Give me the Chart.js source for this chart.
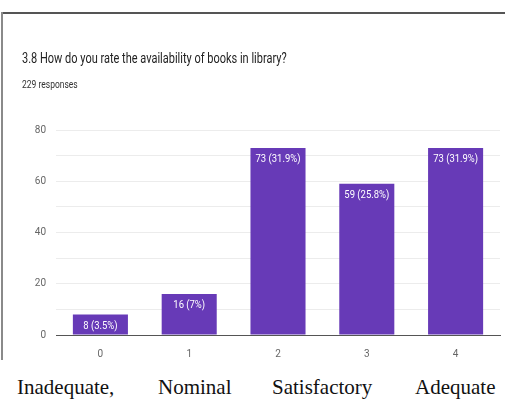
<!DOCTYPE html>
<html>
<head>
<meta charset="utf-8">
<script src="https://cdn.jsdelivr.net/npm/chart.js@4"></script>
<style>
  html, body { margin: 0; padding: 0; background: #fff; }
  body { width: 505px; height: 420px; position: relative; overflow: hidden; }
  #wrap { position: absolute; left: 0; top: 0; width: 505px; height: 368px; }
  #frameTop { position: absolute; left: 1px; top: 12px; width: 504px; height: 2px; background: #555; }
  #frameLeft { position: absolute; left: 1px; top: 12px; width: 2px; height: 348px; background: #8a8a8a; }
  .head { position: absolute; left: 22px; font-family: Roboto, "Noto Sans", sans-serif; white-space: nowrap; transform-origin: left top; }
  #title { top: 50px; font-size: 14px; line-height: 16px; color: #222; transform: scaleX(0.785); }
  #subtitle { top: 79px; font-size: 10px; line-height: 12px; color: #333; transform: scaleX(0.85); }
  .word { position: absolute; top: 377px; font-family: "Liberation Serif", "DejaVu Serif", serif; font-size: 21px; line-height: 21px; color: #111; white-space: nowrap; }
</style>
</head>
<body>
<div id="wrap"><canvas id="chart"></canvas></div>
<div id="frameTop"></div>
<div id="frameLeft"></div>
<div class="head" id="title"></div>
<div class="head" id="subtitle"></div>
<div class="word" style="left:17px">Inadequate,</div>
<div class="word" style="left:158px">Nominal</div>
<div class="word" style="left:272px">Satisfactory</div>
<div class="word" style="left:415px">Adequate</div>
<script>
// 데이터
const categories = ['0', '1', '2', '3', '4'];
const counts = [8, 16, 73, 59, 73];
const percents = ['3.5%', '7%', '31.9%', '25.8%', '31.9%'];
const yTicks = [0, 20, 40, 60, 80];

const titleText = '3.8 How do you rate the availability of books in library?';
const subtitleText = '229 responses';

document.getElementById('title').textContent = titleText;
document.getElementById('subtitle').textContent = subtitleText;

const fontName = 'Roboto, "Noto Sans", sans-serif';

// 막대 위에 값 표시 (가로로 살짝 좁혀서)
const barLabels = {
    id: 'barLabels',
    afterDatasetsDraw(chart) {
        const ctx = chart.ctx;
        const meta = chart.getDatasetMeta(0);
        ctx.save();
        ctx.fillStyle = '#ffffff';
        ctx.font = '11px ' + fontName;
        ctx.textAlign = 'center';
        ctx.textBaseline = 'top';
        meta.data.forEach((bar, i) => {
            ctx.save();
            ctx.translate(bar.x, bar.y + 6);
            ctx.scale(0.86, 1);
            ctx.fillText(`${counts[i]} (${percents[i]})`, 0, 0);
            ctx.restore();
        });
        ctx.restore();
    }
};

const ctx = document.getElementById('chart').getContext('2d');
const chart = new Chart(ctx, {
    type: 'bar',
    data: {
        labels: categories,
        datasets: [{
            data: counts,
            backgroundColor: '#673ab7',
            borderWidth: 0,
            barPercentage: 0.62,
            categoryPercentage: 1
        }]
    },
    options: {
        responsive: true,
        maintainAspectRatio: false,
        animation: false,
        layout: { padding: { left: 20, right: 5, top: 130, bottom: 3 } },
        plugins: {
            legend: { display: false },
            tooltip: { enabled: false }
        },
        scales: {
            x: {
                grid: { display: false },
                border: { color: '#555', width: 1 },
                ticks: { color: '#666', font: { family: fontName, size: 10 }, padding: 5 }
            },
            y: {
                min: 0,
                max: 80,
                afterFit(scale) { scale.width = 36; },
                border: { display: false },
                grid: { color: '#ececec', drawTicks: false },
                ticks: {
                    stepSize: 10,
                    color: '#666',
                    padding: 10,
                    font: { family: fontName, size: 10 },
                    callback: v => yTicks.includes(v) ? v : ''
                }
            }
        }
    },
    plugins: [barLabels]
});
</script>
</body>
</html>
